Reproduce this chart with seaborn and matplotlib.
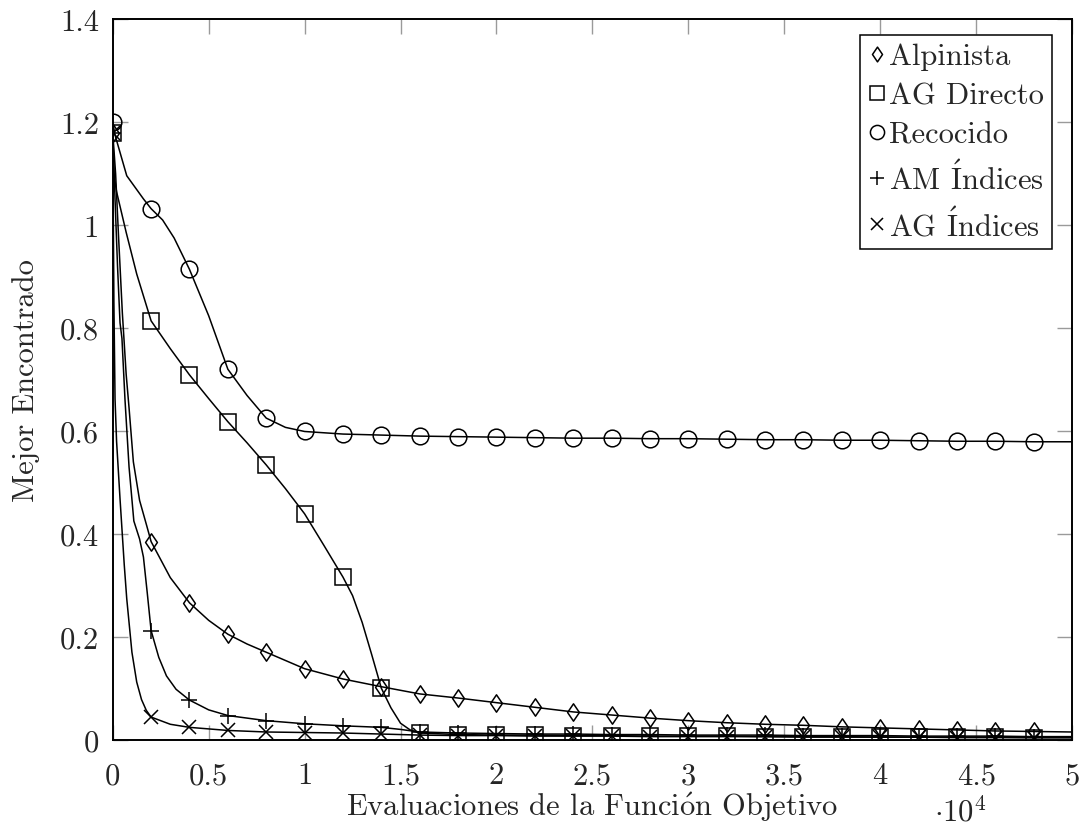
import matplotlib
matplotlib.use("Agg")
import matplotlib.pyplot as plt
from matplotlib.lines import Line2D
from matplotlib.path import Path
import seaborn as sns

# ---- data: best value found vs. objective-function evaluations ----
alpinista_x = [0, 150, 300, 500, 700, 850, 1075, 1400, 1770, 2000, 3000, 4000, 5000,
               6000, 7000, 8000, 10000, 12000, 14000, 16000, 18000, 20000, 22000,
               24000, 26000, 28000, 30000, 32000, 34000, 36000, 38000, 40000, 42000,
               44000, 46000, 48000, 50000]
alpinista_y = [1.18, 1.10, 0.98, 0.83, 0.71, 0.645, 0.54, 0.465, 0.416, 0.385, 0.315,
               0.266, 0.232, 0.205, 0.186, 0.170, 0.138, 0.118, 0.103, 0.089, 0.081,
               0.072, 0.063, 0.054, 0.048, 0.042, 0.037, 0.033, 0.030, 0.028, 0.025,
               0.023, 0.021, 0.019, 0.017, 0.016, 0.015]

directo_x = [0, 60, 200, 700, 1250, 2000, 3000, 4000, 5000, 6000, 7000, 8000, 9000,
             10000, 11000, 12000, 12500, 13000, 13500, 14000, 14500, 15000, 15500,
             16000, 18000, 20000, 22000, 24000, 26000, 28000, 30000, 32000, 34000,
             36000, 38000, 40000, 42000, 44000, 46000, 48000, 50000]
directo_y = [1.18, 1.10, 1.065, 0.986, 0.905, 0.814, 0.760, 0.709, 0.663, 0.618, 0.577,
             0.534, 0.488, 0.439, 0.378, 0.316, 0.280, 0.228, 0.165, 0.100, 0.062,
             0.032, 0.019, 0.013, 0.010, 0.009, 0.009, 0.008, 0.008, 0.007, 0.007,
             0.007, 0.006, 0.006, 0.006, 0.005, 0.005, 0.005, 0.005, 0.004, 0.004]

recocido_x = [0, 120, 730, 1600, 2000, 2600, 3200, 4000, 5000, 6000, 7000, 8000, 9000,
              10000, 12000, 14000, 16000, 18000, 20000, 22000, 24000, 26000, 28000,
              30000, 32000, 34000, 36000, 38000, 40000, 42000, 44000, 46000, 48000, 50000]
recocido_y = [1.20, 1.175, 1.096, 1.051, 1.032, 1.010, 0.975, 0.914, 0.824, 0.720, 0.669,
              0.625, 0.607, 0.599, 0.594, 0.592, 0.590, 0.589, 0.588, 0.587, 0.586,
              0.586, 0.585, 0.585, 0.584, 0.583, 0.583, 0.582, 0.582, 0.581, 0.580,
              0.580, 0.579, 0.579]

am_x = [0, 120, 250, 380, 480, 640, 850, 1100, 1400, 1600, 1800, 2000, 2400, 2800, 3300,
        4000, 5000, 6000, 8000, 10000, 12000, 14000, 15000, 16000, 18000, 20000, 22000,
        24000, 26000, 28000, 30000, 32000, 34000, 36000, 38000, 40000, 42000, 44000,
        46000, 48000, 50000]
am_y = [1.18, 1.05, 0.92, 0.81, 0.78, 0.66, 0.53, 0.425, 0.39, 0.355, 0.285, 0.212, 0.160,
        0.124, 0.098, 0.077, 0.058, 0.047, 0.037, 0.031, 0.027, 0.024, 0.020, 0.015,
        0.013, 0.012, 0.011, 0.011, 0.010, 0.010, 0.009, 0.009, 0.009, 0.008, 0.008,
        0.008, 0.007, 0.007, 0.007, 0.006, 0.006]

agi_x = [0, 60, 120, 200, 380, 600, 730, 1000, 1250, 1500, 1750, 2000, 3000, 4000, 6000,
         8000, 10000, 12000, 14000, 16000, 18000, 20000, 22000, 24000, 26000, 28000,
         30000, 32000, 34000, 36000, 38000, 40000, 42000, 44000, 46000, 48000, 50000]
agi_y = [1.18, 0.85, 0.662, 0.58, 0.468, 0.34, 0.274, 0.170, 0.112, 0.078, 0.057, 0.044,
         0.030, 0.024, 0.018, 0.015, 0.014, 0.013, 0.011, 0.009, 0.008, 0.008, 0.007,
         0.007, 0.007, 0.006, 0.006, 0.006, 0.006, 0.005, 0.005, 0.005, 0.005, 0.004,
         0.004, 0.004, 0.004]

labels = ["Alpinista", "AG Directo", "Recocido",
          r"AM $\acute{\mathrm{I}}$ndices", r"AG $\acute{\mathrm{I}}$ndices"]

x_ticks = [0, 5000, 10000, 15000, 20000, 25000, 30000, 35000, 40000, 45000, 50000]
x_tick_labels = ["0", "0.5", "1", "1.5", "2", "2.5", "3", "3.5", "4", "4.5", "5"]
y_ticks = [0, 0.2, 0.4, 0.6, 0.8, 1.0, 1.2, 1.4]
y_tick_labels = ["0", "0.2", "0.4", "0.6", "0.8", "1", "1.2", "1.4"]

# ---- style ----
sns.set_theme(style="ticks")
plt.rcParams["font.family"] = ["cmr10", "DejaVu Serif"]
plt.rcParams["mathtext.fontset"] = "cm"
plt.rcParams["axes.formatter.use_mathtext"] = True
plt.rcParams["axes.unicode_minus"] = False

FS = 22
diamond = Path([(0, 1), (0.68, 0), (0, -1), (-0.68, 0), (0, 1)], closed=True)
marker_specs = [
    (diamond, 12.5),
    ("s", 12.0),
    ("o", 12.0),
    ("+", 11.5),
    ("x", 10.5),
]

fig = plt.figure(figsize=(10.84, 8.29), dpi=100)
ax = fig.add_axes([0.104, 0.1065, 0.885, 0.869])

series = [(alpinista_x, alpinista_y), (directo_x, directo_y), (recocido_x, recocido_y),
          (am_x, am_y), (agi_x, agi_y)]

for (xs, ys), (mk, ms) in zip(series, marker_specs):
    every = [i for i, v in enumerate(xs) if v % 2000 == 0 and v < 50000]
    sns.lineplot(x=xs, y=ys, ax=ax, estimator=None, sort=False, legend=False,
                 color="black", linewidth=1.1, marker=mk, markersize=ms,
                 markevery=every, markerfacecolor="none", markeredgecolor="black",
                 markeredgewidth=1.1)

ax.set_xlim(0, 50000)
ax.set_ylim(0, 1.4)
ax.set_xticks(x_ticks)
ax.set_xticklabels(x_tick_labels)
ax.set_yticks(y_ticks)
ax.set_yticklabels(y_tick_labels)
ax.tick_params(direction="in", length=11, width=1.0, color="#9a9a9a",
               top=True, right=True, labelsize=FS, pad=10)
ax.tick_params(axis="x", pad=16)
for sp in ax.spines.values():
    sp.set_visible(True)
    sp.set_color("black")
    sp.set_linewidth(1.4)

ax.set_xlabel(r"Evaluaciones de la Funci$\acute{\mathrm{o}}$n Objetivo", fontsize=FS,
              labelpad=0)
ax.set_ylabel("Mejor Encontrado", fontsize=FS, labelpad=14)
ax.text(0.883, -0.098, r"$\cdot 10^{4}$", transform=ax.transAxes, fontsize=FS,
        ha="center", va="center")

handles = [Line2D([], [], linestyle="none", marker=mk, markersize=ms * 0.85,
                  markerfacecolor="none", markeredgecolor="black", markeredgewidth=1.1)
           for mk, ms in marker_specs]
leg = ax.legend(handles, labels, loc="upper right", bbox_to_anchor=(0.979, 0.978),
                borderaxespad=0, fontsize=FS, frameon=True, fancybox=False,
                handlelength=0.6, handletextpad=0.12, borderpad=0.25,
                labelspacing=0.38, framealpha=1)
leg.get_frame().set_edgecolor("black")
leg.get_frame().set_linewidth(1.1)

fig.savefig("out.png", dpi=100)
